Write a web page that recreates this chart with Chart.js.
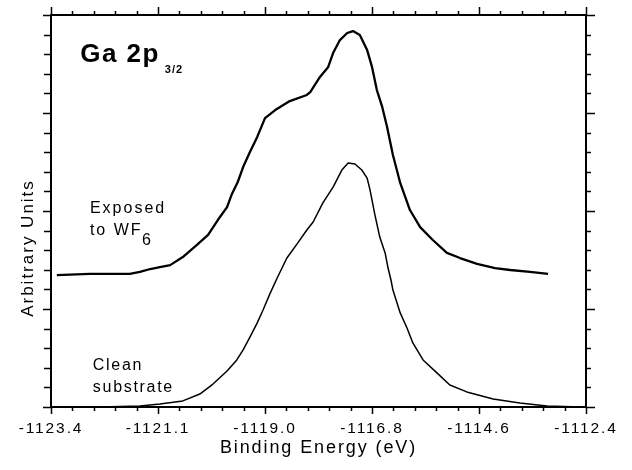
<!DOCTYPE html>
<html>
<head>
<meta charset="utf-8">
<title>Ga 2p3/2</title>
<script src="https://cdn.jsdelivr.net/npm/chart.js@4/dist/chart.umd.min.js"></script>
<style>
    html, body { margin: 0; padding: 0; background: #ffffff; }
    #xpsChart { display: block; }
</style>
</head>
<body>
<canvas id="xpsChart" width="632" height="470"></canvas>
<script>
// Data (binding energy in eV, intensity in arbitrary units 0-20)
const exposedEnergy = [-1123.28, -1122.60, -1121.78, -1121.57, -1121.36, -1121.16, -1120.95, -1120.69, -1120.40, -1120.17,
    -1119.97, -1119.78, -1119.68, -1119.56, -1119.45, -1119.31, -1119.16, -1119.00, -1118.79, -1118.49,
    -1118.14, -1118.07, -1117.87, -1117.70, -1117.60, -1117.46, -1117.31, -1117.19, -1117.05, -1116.90,
    -1116.80, -1116.70, -1116.59, -1116.49, -1116.37, -1116.22, -1116.02, -1115.81, -1115.55, -1115.26,
    -1114.99, -1114.64, -1114.27, -1113.96, -1113.55, -1113.18];
const exposedCounts = [6.73, 6.79, 6.79, 6.89, 7.04, 7.14, 7.24, 7.65, 8.27, 8.78,
    9.54, 10.20, 10.87, 11.48, 12.24, 13.01, 13.78, 14.74, 15.15, 15.61,
    15.92, 16.07, 16.84, 17.35, 18.06, 18.72, 19.08, 19.18, 18.98, 18.21,
    17.35, 16.17, 15.31, 14.29, 12.86, 11.43, 10.05, 9.18, 8.52, 7.86,
    7.60, 7.30, 7.09, 6.99, 6.89, 6.79];

const cleanEnergy = [-1123.40, -1122.39, -1121.57, -1121.16, -1120.69, -1120.34, -1120.07, -1119.78, -1119.58, -1119.45,
    -1119.31, -1119.16, -1119.04, -1118.90, -1118.75, -1118.55, -1118.34, -1118.14, -1118.01, -1117.81,
    -1117.60, -1117.42, -1117.29, -1117.15, -1117.01, -1116.90, -1116.84, -1116.74, -1116.64, -1116.53,
    -1116.47, -1116.41, -1116.37, -1116.22, -1116.08, -1115.96, -1115.75, -1115.46, -1115.20, -1114.85,
    -1114.31, -1113.76, -1113.20, -1112.52];
const cleanCounts = [0.00, 0.00, 0.05, 0.15, 0.31, 0.66, 1.17, 1.84, 2.40, 2.91,
    3.57, 4.29, 4.95, 5.77, 6.58, 7.60, 8.32, 9.03, 9.44, 10.41,
    11.22, 12.09, 12.45, 12.40, 12.09, 11.68, 11.07, 9.80, 8.67, 7.86,
    7.09, 6.48, 5.97, 4.80, 4.03, 3.27, 2.40, 1.73, 1.12, 0.77,
    0.41, 0.20, 0.05, 0.00];

// Axis ticks
const xTickValues = [-1123.4, -1121.2, -1119.0, -1116.8, -1114.6, -1112.4];
const xTickLabels = ['-1123.4', '-1121.1', '-1119.0', '-1116.8', '-1114.6', '-1112.4'];
const xMinorStep = 0.44; // 4 minor ticks between the labelled ones
const yMinorStep = 1;
const yMajorEvery = 5;

const FONT = "'Liberation Sans', Arial, Helvetica, sans-serif";

// draws the box and the tick marks on all four sides
const frameTicks = {
    id: 'frameTicks',
    beforeDraw(chart) {
        chart.ctx.letterSpacing = '1.9px'; // the scanned figure has loose letter spacing
    },
    afterDraw(chart) {
        const { ctx, chartArea: a, scales: { x, y } } = chart;
        ctx.save();
        ctx.strokeStyle = '#000';
        ctx.lineWidth = 2;
        ctx.strokeRect(a.left, a.top, a.right - a.left, a.bottom - a.top);

        ctx.lineWidth = 1.5;
        ctx.beginPath();
        // x ticks (top and bottom, pointing out)
        const nx = Math.round((x.max - x.min) / xMinorStep);
        for (let k = 0; k <= nx; k++) {
            const px = Math.round(x.getPixelForValue(x.min + k * xMinorStep)) + 0.5;
            const major = k % 5 === 0;
            ctx.moveTo(px, a.top); ctx.lineTo(px, a.top - (major ? 8 : 4));
            ctx.moveTo(px, a.bottom); ctx.lineTo(px, a.bottom + (major ? 7 : 4));
        }
        // y ticks (left and right, pointing out)
        for (let v = y.min; v <= y.max; v += yMinorStep) {
            const py = Math.round(y.getPixelForValue(v)) + 0.5;
            const major = v % yMajorEvery === 0;
            ctx.moveTo(a.left, py); ctx.lineTo(a.left - (major ? 8 : 7), py);
            ctx.moveTo(a.right, py); ctx.lineTo(a.right + (major ? 9 : 5), py);
        }
        ctx.stroke();

        // y axis title, sitting a bit below the middle as in the original
        ctx.fillStyle = '#000';
        ctx.letterSpacing = '2px';
        ctx.font = '17px ' + FONT;
        ctx.translate(33, 248);
        ctx.rotate(-Math.PI / 2);
        ctx.textAlign = 'center';
        ctx.textBaseline = 'alphabetic';
        ctx.fillText('Arbitrary Units', 0, 0);
        ctx.restore();
    }
};

// text notes placed in data coordinates
const notes = {
    id: 'notes',
    afterDraw(chart) {
        const { ctx, scales: { x, y } } = chart;
        const put = (text, ex, cy, font, spacing) => {
            ctx.font = font;
            ctx.letterSpacing = spacing;
            ctx.fillText(text, x.getPixelForValue(ex), y.getPixelForValue(cy));
        };
        ctx.save();
        ctx.fillStyle = '#000';
        ctx.textAlign = 'left';
        ctx.textBaseline = 'alphabetic';
        put('Ga 2p', -1122.80, 17.60, 'bold 26px ' + FONT, '1.5px');
        put('3/2', -1121.06, 17.04, 'bold 11px ' + FONT, '1px');
        put('Exposed', -1122.60, 9.90, '16px ' + FONT, '2px');
        put('to WF', -1122.60, 8.78, '16px ' + FONT, '2px');
        put('6', -1121.53, 8.27, '16px ' + FONT, '2px');
        put('Clean', -1122.54, 1.89, '16px ' + FONT, '1.7px');
        put('substrate', -1122.54, 0.77, '16px ' + FONT, '1.7px');
        ctx.restore();
    }
};

document.addEventListener('DOMContentLoaded', () => { // wait for the canvas
    const ctx = document.getElementById('xpsChart').getContext('2d');
    new Chart(ctx, {
        type: 'line',
        data: {
            datasets: [{
                label: 'Exposed to WF6',
                data: exposedEnergy.map((e, i) => ({ x: e, y: exposedCounts[i] })),
                borderColor: '#000',
                borderWidth: 2.3,
                borderJoinStyle: 'round',
                pointRadius: 0,
                tension: 0
            }, {
                label: 'Clean substrate',
                data: cleanEnergy.map((e, i) => ({ x: e, y: cleanCounts[i] })),
                borderColor: '#000',
                borderWidth: 1.5,
                borderJoinStyle: 'round',
                pointRadius: 0,
                tension: 0
            }]
        },
        options: {
            responsive: false,
            animation: false,
            layout: { padding: { top: 15, right: 46, left: 0, bottom: 0 } },
            plugins: { legend: { display: false }, tooltip: { enabled: false } },
            scales: {
                x: {
                    type: 'linear',
                    min: -1123.4,
                    max: -1112.4,
                    afterBuildTicks: (scale) => { scale.ticks = xTickValues.map(v => ({ value: v })); },
                    afterFit: (scale) => { scale.height = 63; },
                    grid: { display: false, drawTicks: false },
                    border: { display: false },
                    ticks: {
                        callback: (v, i) => xTickLabels[i],
                        autoSkip: false,
                        maxRotation: 0,
                        padding: 12,
                        color: '#000',
                        font: { family: FONT, size: 15.5 }
                    },
                    title: {
                        display: true,
                        text: 'Binding Energy (eV)',
                        color: '#000',
                        font: { family: FONT, size: 18 },
                        padding: { top: 0, bottom: 11 }
                    }
                },
                y: {
                    min: 0,
                    max: 20,
                    afterFit: (scale) => { scale.width = 51; },
                    grid: { display: false, drawTicks: false },
                    border: { display: false },
                    ticks: { display: false }
                }
            }
        },
        plugins: [frameTicks, notes]
    });
});
</script>
</body>
</html>
